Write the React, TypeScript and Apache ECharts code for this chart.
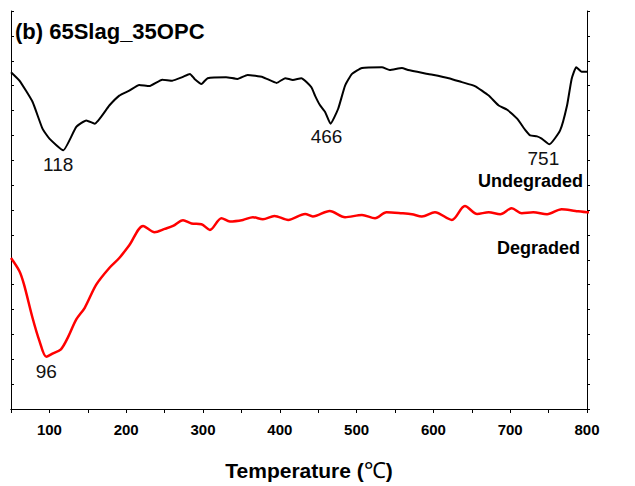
import React, { useEffect, useRef } from "react";
import * as echarts from "echarts";

// Temperature (°C) and DTG signal (arbitrary units) for the undegraded sample
const undegradedT = [50, 61, 78, 91, 100, 118, 135, 148, 159, 178, 191, 204, 217, 230, 247, 260, 273, 283, 289, 298, 306, 330, 345, 358, 378, 396, 407, 417, 428, 441, 446, 452, 459, 466, 476, 485, 494, 507, 533, 543, 559, 567, 593, 620, 637, 654, 672, 685, 696, 709, 720, 726, 735, 741, 751, 765, 774, 780, 786, 793, 800];
const undegradedY = [13.54, 13.2, 12.35, 11.27, 10.87, 10.4, 11.34, 11.6, 11.47, 12.2, 12.6, 12.8, 13.03, 12.98, 13.24, 13.2, 13.34, 13.47, 13.27, 13.07, 13.3, 13.34, 13.27, 13.43, 13.34, 13.11, 13.3, 13.23, 13.3, 12.94, 12.59, 12.23, 11.94, 11.47, 12.07, 13.0, 13.47, 13.71, 13.74, 13.63, 13.71, 13.63, 13.47, 13.3, 13.14, 12.98, 12.6, 12.2, 12.03, 11.67, 11.2, 11.0, 10.96, 10.87, 10.64, 11.2, 12.2, 13.27, 13.74, 13.56, 13.56];

// Temperature (°C) and DTG signal for the degraded sample
const degradedT = [50, 61, 67, 78, 87, 96, 104, 115, 124, 135, 146, 161, 178, 191, 204, 222, 237, 250, 261, 274, 285, 298, 309, 324, 335, 352, 365, 378, 393, 411, 433, 443, 465, 485, 507, 524, 539, 559, 572, 585, 602, 624, 641, 657, 672, 687, 702, 715, 730, 748, 767, 785, 800, 820, 833, 848, 863];
const degradedY = [6.07, 5.54, 5.0, 3.67, 2.74, 2.1, 2.23, 2.4, 2.87, 3.6, 4.07, 5.0, 5.67, 6.07, 6.58, 7.36, 7.11, 7.24, 7.36, 7.59, 7.46, 7.43, 7.2, 7.67, 7.54, 7.6, 7.71, 7.63, 7.76, 7.6, 7.84, 7.74, 7.96, 7.71, 7.8, 7.67, 7.91, 7.87, 7.83, 7.74, 7.91, 7.6, 8.16, 7.84, 7.91, 7.83, 8.07, 7.87, 7.91, 7.83, 8.03, 7.96, 7.91, 7.9, 8.1, 7.9, 7.94];

// Peak temperatures annotated on each curve, with label offsets
const undegradedPeaks = [118, 466, 751];
const undegradedPeakOffsets = [[-5, 0], [-4, -2], [-6, 0]];
const degradedPeaks = [96];
const degradedPeakOffsets = [[0, 0]];

const xTickLabels = [100, 200, 300, 400, 500, 600, 700, 800];

const SANS = '"Liberation Sans", Arial, sans-serif';

function buildSeriesData(
  t: number[],
  y: number[],
  peaks: number[],
  offsets: number[][]
) {
  return t.map((tv, i) => {
    const k = peaks.indexOf(tv);
    if (k < 0) return [tv, y[i]];
    return {
      value: [tv, y[i]],
      label: {
        show: true,
        position: "bottom",
        distance: 5,
        offset: offsets[k],
        formatter: (p: any) => String(p.value[0]),
        color: "#111",
        fontFamily: SANS,
        fontSize: 19,
      },
    };
  });
}

export default function App() {
  const ref = useRef<HTMLDivElement>(null);

  useEffect(() => {
    if (!ref.current) return;
    const chart = echarts.init(ref.current, undefined, { renderer: "svg" });

    const axisLine = { show: true, lineStyle: { color: "#000", width: 1 } };

    chart.setOption({
      animation: false,
      backgroundColor: "#fff",
      grid: { left: 11, top: 11, right: 48, bottom: 75, containLabel: false },
      xAxis: [
        {
          type: "value",
          min: 50,
          max: 800,
          interval: 50,
          position: "bottom",
          axisLine,
          axisTick: { show: true, length: 4, lineStyle: { color: "#000" } },
          splitLine: { show: false },
          axisLabel: {
            margin: 13,
            color: "#000",
            fontFamily: SANS,
            fontWeight: "bold",
            fontSize: 15,
            formatter: (v: number) =>
              xTickLabels.indexOf(v) >= 0 ? String(v) : "",
          },
          name: "{a|Temperature (}{b|℃}{a|)}",
          nameLocation: "middle",
          nameGap: 50,
          nameTextStyle: {
            padding: [0, 0, 0, 20],
            rich: {
              a: {
                fontFamily: SANS,
                fontWeight: "bold",
                fontSize: 21,
                color: "#000",
              },
              b: {
                fontFamily: '"Liberation Serif", "Times New Roman", serif',
                fontSize: 22,
                color: "#000",
              },
            },
          },
        },
        {
          type: "value",
          min: 50,
          max: 800,
          interval: 50,
          position: "top",
          axisLine,
          axisTick: { show: false },
          axisLabel: { show: false },
          splitLine: { show: false },
        },
      ],
      yAxis: [
        {
          type: "value",
          min: 0,
          max: 16,
          interval: 1,
          position: "left",
          axisLine,
          axisTick: { show: true, inside: true, length: 3, lineStyle: { color: "#000" } },
          axisLabel: { show: false },
          splitLine: { show: false },
        },
        {
          type: "value",
          min: 0,
          max: 16,
          interval: 1,
          position: "right",
          axisLine,
          axisTick: { show: true, inside: false, length: 3, lineStyle: { color: "#000" } },
          axisLabel: { show: false },
          splitLine: { show: false },
        },
      ],
      series: [
        {
          name: "Undegraded",
          type: "line",
          xAxisIndex: 0,
          yAxisIndex: 0,
          smooth: 0.15,
          symbol: "circle",
          symbolSize: 0,
          showSymbol: true,
          clip: false,
          lineStyle: { color: "#000", width: 2 },
          itemStyle: { color: "#000" },
          data: buildSeriesData(undegradedT, undegradedY, undegradedPeaks, undegradedPeakOffsets),
        },
        {
          name: "Degraded",
          type: "line",
          xAxisIndex: 0,
          yAxisIndex: 0,
          smooth: 0.3,
          symbol: "circle",
          symbolSize: 0,
          showSymbol: true,
          clip: false,
          lineStyle: { color: "#ff0000", width: 2.5 },
          itemStyle: { color: "#ff0000" },
          data: buildSeriesData(degradedT, degradedY, degradedPeaks, degradedPeakOffsets),
        },
      ],
      graphic: [
        {
          type: "text",
          left: 15,
          top: 20,
          style: {
            text: "(b) 65Slag_35OPC",
            fill: "#000",
            font: `bold 22px ${SANS}`,
          },
        },
        {
          type: "text",
          x: 583,
          y: 181,
          style: {
            text: "Undegraded",
            fill: "#000",
            font: `bold 18px ${SANS}`,
            align: "right",
            verticalAlign: "middle",
          },
        },
        {
          type: "text",
          x: 580,
          y: 248,
          style: {
            text: "Degraded",
            fill: "#000",
            font: `bold 18px ${SANS}`,
            align: "right",
            verticalAlign: "middle",
          },
        },
      ],
    });

    return () => chart.dispose();
  }, []);

  return (
    <div
      ref={ref}
      style={{ position: "fixed", left: 0, top: 0, width: 635, height: 486 }}
    />
  );
}
